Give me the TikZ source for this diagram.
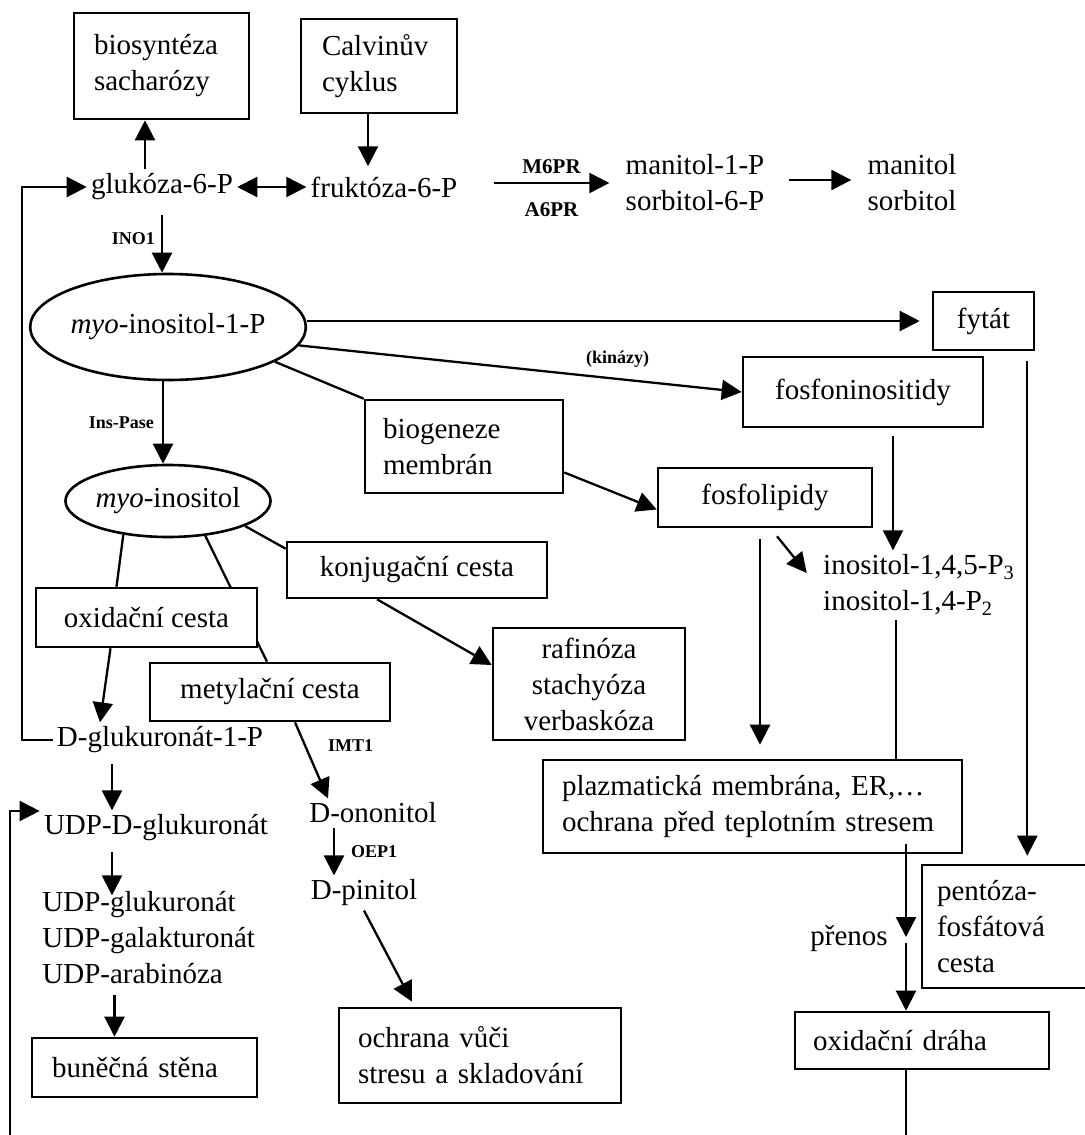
\documentclass[tikz,border=0pt]{standalone}
\usepackage{fontspec}
\setmainfont{Liberation Serif}
\usetikzlibrary{arrows.meta,shapes.geometric,backgrounds}
\begin{document}
\begin{tikzpicture}[x=0.5pt,y=-0.5pt,
  every node/.style={font=\fontsize{14.5pt}{18pt}\selectfont},
  bx/.style={draw, fill=white, line width=1.3pt, inner sep=0pt, align=center},
  el/.style={ellipse, draw, fill=white, line width=1.3pt, inner sep=0pt},
  txt/.style={inner sep=2pt},
  sm/.style={font=\fontsize{9pt}{10pt}\selectfont\bfseries, inner sep=1pt},
  smb/.style={font=\fontsize{10.5pt}{11pt}\selectfont\bfseries, inner sep=1pt},
  arr/.style={-{Triangle[length=10pt,width=10pt]}, line width=1.15pt},
  dbl/.style={{Triangle[length=10pt,width=10pt]}-{Triangle[length=10pt,width=10pt]}, line width=1.15pt},
  ln/.style={line width=1.15pt}]
\useasboundingbox (0,0) rectangle (1084,1135);
\coordinate (fbx) at (22,0);
\coordinate (fb2) at (10,1135);
\coordinate (bot) at (0,1135);
\coordinate (pm) at (906,940);
% nodes
\node[bx, minimum width=87.5pt, minimum height=53pt, text width=67.5pt, align=left] (bios) at (161.5,66) {biosyntéza\\sacharózy};
\node[bx, minimum width=78pt, minimum height=47pt, text width=57pt, align=left] (calv) at (379,66) {Calvinův\\cyklus};
\node[txt] (glu) at (162,187) {glukóza-6-P};
\node[txt] (fru) at (384,187) {fruktóza-6-P};
\node[txt, align=left] (man1) at (695,183) {manitol-1-P\\sorbitol-6-P};
\node[txt, align=left] (man2) at (912,183) {manitol\\sorbitol};
\node[el, minimum width=108.5pt, minimum height=53pt] (e1) at (168,327) {\textit{myo}-inositol-1-P};
\node[bx, minimum width=50.5pt, minimum height=29pt] (fytat) at (983.5,321) {fytát};
\node[bx, minimum width=120pt, minimum height=35pt] (fosfon) at (863,392) {fosfoninositidy};
\node[bx, minimum width=99pt, minimum height=46.5pt, text width=81pt, align=left] (biog) at (464,446.5) {biogeneze\\membrán};
\node[bx, minimum width=107pt, minimum height=29.5pt] (fosfol) at (765,497.5) {fosfolipidy};
\node[el, minimum width=89.5pt, minimum height=36pt] (e2) at (168,501) {\textit{myo}-inositol};
\node[bx, minimum width=130pt, minimum height=28pt] (konj) at (417,570) {konjugační cesta};
\node[txt, align=left] (inos) at (919,585) {inositol-1,4,5-P\textsubscript{3}\\inositol-1,4-P\textsubscript{2}};
\node[bx, minimum width=110.5pt, minimum height=29.5pt] (oxidc) at (146.5,617.5) {oxidační cesta};
\node[bx, minimum width=120pt, minimum height=29pt] (metyl) at (270,692) {metylační cesta};
\node[bx, minimum width=96pt, minimum height=56pt] (rafin) at (589,684) {rafinóza\\stachyóza\\verbaskóza};
\node[txt] (dglu) at (160,740) {D-glukuronát-1-P};
\node[bx, minimum width=209.5pt, minimum height=46.5pt, text width=190.5pt, align=left] (plazm) at (752.5,806.5) {plazmatická membrána, ER,…\\ochrana před teplotním stresem};
\node[txt] (onon) at (373,813) {D-ononitol};
\node[txt] (udpd) at (156,828) {UDP-D-glukuronát};
\node[txt] (pini) at (364,893) {D-pinitol};
\node[txt, align=left, anchor=west] (udps) at (38,938) {UDP-glukuronát\\UDP-galakturonát\\UDP-arabinóza};
\node[bx, minimum width=89pt, minimum height=61.5pt, text width=74pt, align=left] (pent) at (1011,926.5) {pentóza-\\fosfátová\\cesta};
\node[txt] (pren) at (849,938) {přenos};
\node[bx, minimum width=127pt, minimum height=28.5pt, text width=109pt, align=left] (oxidd) at (922,1040.5) {oxidační dráha};
\node[bx, minimum width=141pt, minimum height=47.5pt, text width=122pt, align=left] (ochr) at (480,1055.5) {ochrana vůči\\stresu a skladování};
\node[bx, minimum width=112.5pt, minimum height=29.5pt, text width=92.5pt, align=left] (bunec) at (144.5,1067.5) {buněčná stěna};
% line behind oxidc box
\begin{scope}[on background layer]
\draw[ln] (e2.-43) -- ([xshift=-1.5pt]metyl.north);
\end{scope}
% connectors
\draw[arr] ([xshift=-8.5pt]glu.north) -- ([xshift=-8.5pt]glu.north |- bios.south);
\draw[arr] ([xshift=-5.5pt]calv.south) -- ([xshift=-5.5pt,yshift=3pt]calv.south |- fru.north);
\draw[dbl] (glu.east) -- (fru.west);
\draw[arr] ([xshift=16pt]fru.east |- man1.west) -- ([xshift=-6pt]man1.west)
  node[midway, above=3pt, smb]{M6PR} node[midway, below=8pt, smb]{A6PR};
\draw[arr] ([xshift=10pt,yshift=1.5pt]man1.east) -- ([xshift=-6pt,yshift=1.5pt]man2.west);
\draw[arr] (dglu.west) -- (dglu.west -| fbx) |- (glu.west);
\draw[arr, shorten <=5pt] (glu.south) -- (glu.south |- e1.north) node[midway, left=2pt, sm]{INO1};
\draw[arr] (e1.east |- fytat.west) -- ([xshift=-6pt]fytat.west);
\draw[arr] (e1.-8) -- (fosfon.west) node[pos=0.72, above=4pt, sm]{(kinázy)};
\draw[ln] (e1.-18) -- (biog.north west);
\draw[arr] ([yshift=-13pt]biog.east) -- ([yshift=-6pt]fosfol.west);
\draw[arr, shorten <=4pt] ([xshift=15pt]fosfon.south) -- ([xshift=15pt]fosfon.south |- inos.north);
\draw[arr, shorten >=4pt] ([xshift=-4pt,yshift=-5pt]fytat.south east) -- ([xshift=-4pt]fytat.south east |- pent.north);
\draw[arr] ([xshift=6pt,yshift=-4pt]fosfol.south) -- ([xshift=-6pt,yshift=6pt]inos.west);
\draw[arr, shorten >=7pt] ([xshift=-2.5pt,yshift=-5.5pt]fosfol.south) -- ([xshift=-2.5pt]fosfol.south |- plazm.north);
\draw[ln] ([xshift=-11.5pt]inos.south) -- ([xshift=-11.5pt]inos.south |- plazm.north);
\draw[arr] ([yshift=5pt]plazm.south -| pm) -- ([yshift=1.5pt]pm);
\draw[arr] ([yshift=-1.5pt]pm) -- (pm |- oxidd.north);
\draw[ln] (oxidd.south -| pm) -- (pm |- bot);
\draw[arr] ([xshift=-2.5pt]e1.south) -- ([xshift=-2.5pt]e2.north) node[midway, left=3pt, sm]{Ins-Pase};
\draw[ln] (e2.-143) -- ([xshift=-15pt]oxidc.north);
\draw[ln] (e2.-18) -- ([yshift=-4pt]konj.north west);
\draw[arr] ([xshift=-20pt]konj.south) -- ([yshift=9.5pt]rafin.west);
\draw[arr] ([xshift=-18pt]oxidc.south) -- ([xshift=-30pt]dglu.north);
\draw[arr] ([xshift=12.5pt]metyl.south) -- ([xshift=-22.5pt]onon.north) node[pos=0.3, right=10pt, sm]{IMT1};
\draw[arr] ([xshift=-19.5pt]onon.south) -- ([xshift=-19.5pt]onon.south |- pini.north) node[midway, right=7pt, sm]{OEP1};
\draw[arr] (pini.south) -- ([xshift=-34pt,yshift=2.5pt]ochr.north);
\draw[arr, shorten <=3pt] ([xshift=-24pt]dglu.south) -- ([xshift=-24pt]dglu.south |- udpd.north);
\draw[arr] (fb2) |- ([yshift=8.5pt]udpd.west);
\draw[arr, shorten <=3pt] ([xshift=-22pt]udpd.south) -- ([xshift=-22pt,yshift=-4pt]udpd.south |- udps.north);
\draw[arr, shorten <=3pt] ([xshift=-15pt]bunec.north |- udps.south) -- ([xshift=-15pt]bunec.north);
\end{tikzpicture}
\end{document}
